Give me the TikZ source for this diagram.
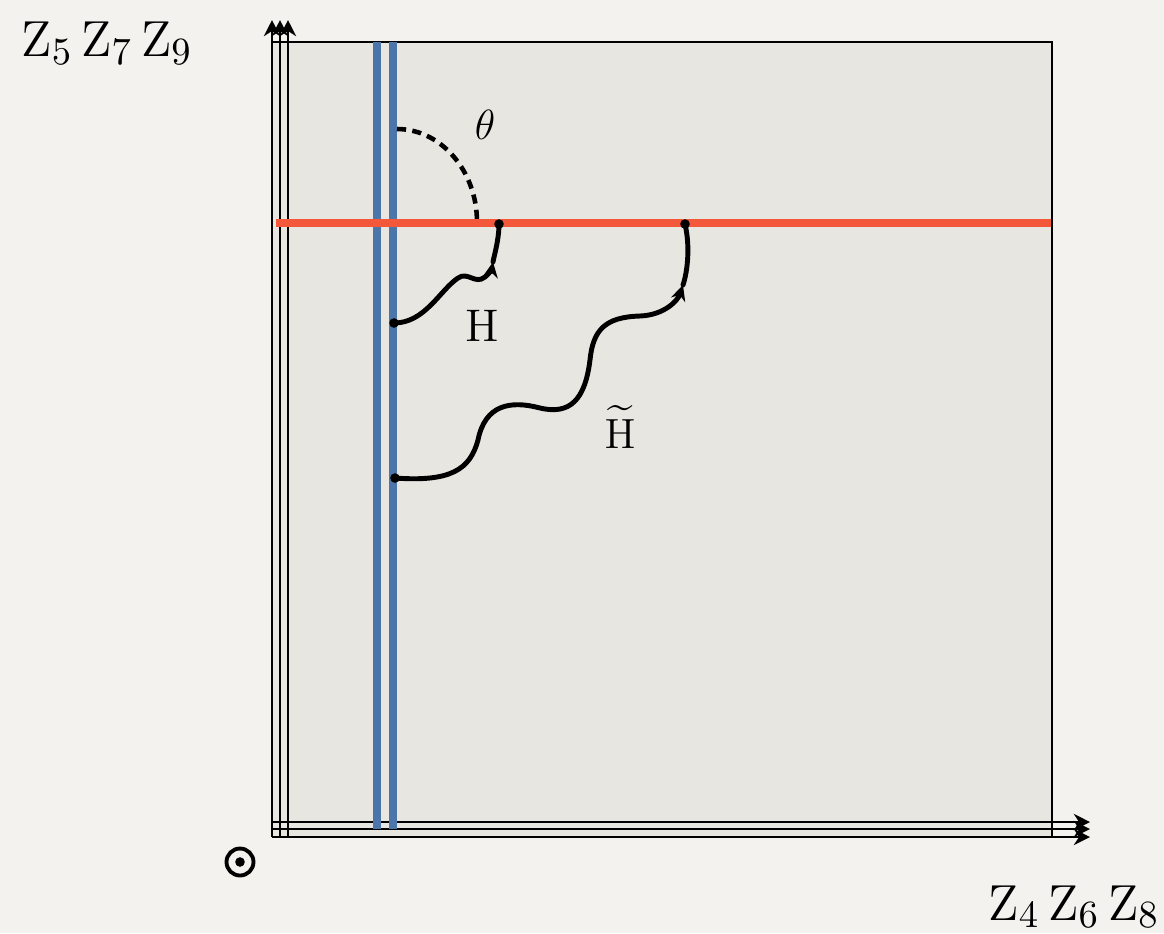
\documentclass[tikz,border=0pt]{standalone}
\usepackage{amsmath,amssymb}
\usetikzlibrary{arrows.meta}
\definecolor{paper}{HTML}{F4F2EE}
\definecolor{panel}{HTML}{E8E6E1}
\definecolor{wallblue}{HTML}{4C76AA}
\definecolor{branered}{HTML}{F4583A}
\tikzset{
  axis/.style={line width=0.75pt,-{Stealth[length=4.6pt,width=4.6pt]}},
  wig/.style={line width=1.4pt,line cap=round},
  wigtip/.style={wig,-{Stealth[length=4.4pt,width=4.2pt]}},
  lbl/.style={inner sep=0pt,font=\fontsize{13}{15}\selectfont},
  zlbl/.style={inner sep=0pt,font=\fontsize{15}{18}\selectfont}
}
\begin{document}
\begin{tikzpicture}[x=0.1mm,y=-0.1mm]
\useasboundingbox[fill=paper] (0,0) rectangle (1164,933);
\fill[panel] (272,42) rectangle (1052,837);
\draw[line width=0.75pt] (272,42)--(1052,42)--(1052,837);
% axes
\draw[axis] (272,837)--(272,20);
\draw[axis] (280,837)--(280,20);
\draw[axis] (288,837)--(288,20);
\draw[axis] (272,822)--(1090,822);
\draw[axis] (272,829)--(1090,829);
\draw[axis] (272,837)--(1090,837);
% branes
\draw[wallblue,line width=2.1pt] (377,42)--(377,829);
\draw[wallblue,line width=2.1pt] (393,42)--(393,829);
\draw[branered,line width=2.3pt] (276,223)--(1051,223);
% angle
\draw[line width=1.3pt,dash pattern=on 2.6pt off 1.8pt] (397,129) .. controls (441,129) and (477,171) .. (477,222);
\node[lbl] (theta) at (485,125) {$\theta$};
% strings
\coordinate (h0) at (394,323);
\coordinate (h1) at (493,262);
\coordinate (h2) at (499,224);
\coordinate (t0) at (395,478);
\coordinate (t1) at (683,285);
\coordinate (t2) at (685,224);
\draw[wigtip] (h0) .. controls (425,323) and (440,290) .. (458,278)
  .. controls (468,271) and (475,285) .. (485,277)
  .. controls (490,273) and (492,268) .. (h1);
\draw[wig] (h1) .. controls (494,256) and (499,240) .. (h2);
\draw[wigtip] (t0) .. controls (450,482) and (470,470) .. (478,440)
  .. controls (485,405) and (510,400) .. (540,408)
  .. controls (570,415) and (585,400) .. (590,360)
  .. controls (593,330) and (605,317) .. (640,316)
  .. controls (665,315) and (678,300) .. (t1);
\draw[wig] (t1) .. controls (688,270) and (690,245) .. (t2);
\foreach \p in {h0,h2,t0,t2} \fill (\p) circle (0.48mm);
\node[lbl] (hlab) at (482,326) {H};
\node[lbl,anchor=base] (htlab) at (620,448) {$\widetilde{\mathrm{H}}$};
% labels
\node[zlbl] (zup) at (107,43) {$\mathrm{Z}_5\,\mathrm{Z}_7\,\mathrm{Z}_9$};
\node[zlbl,anchor=base east] (zright) at (1160,920) {$\mathrm{Z}_4\,\mathrm{Z}_6\,\mathrm{Z}_8$};
\node[draw,circle,line width=1.1pt,minimum size=2.7mm,inner sep=0pt] (odot) at (240,862) {};
\fill (odot.center) circle (0.48mm);
\end{tikzpicture}
\end{document}
